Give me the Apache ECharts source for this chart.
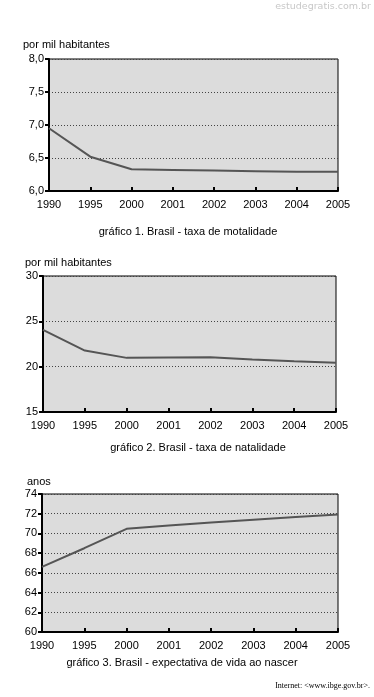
<!DOCTYPE html>
<html><head><meta charset="utf-8">
<script src="https://cdn.jsdelivr.net/npm/echarts@6/dist/echarts.min.js"></script>
<style>html,body{margin:0;padding:0;background:#fff}#c{width:374px;height:697px}</style>
</head><body><div id="c"></div>
<script>
var years = ['1990','1995','2000','2001','2002','2003','2004','2005'];
var mortalidade = [6.95, 6.52, 6.33, 6.32, 6.31, 6.30, 6.29, 6.29];
var natalidade = [24.06, 21.78, 20.97, 21.0, 21.04, 20.8, 20.6, 20.44];
var expectativa = [66.6, 68.5, 70.47, 70.8, 71.1, 71.4, 71.67, 71.93];
var yNames = ['por mil habitantes', 'por mil habitantes', 'anos'];
var captions = ['gráfico 1. Brasil - taxa de motalidade', 'gráfico 2. Brasil - taxa de natalidade', 'gráfico 3. Brasil - expectativa de vida ao nascer'];

var FONT = '"Liberation Sans", Arial, sans-serif';
var grids = [
  {left:49, right:36, top:59, height:132},
  {left:43, right:38, top:276, height:136},
  {left:42, right:36, top:494, height:138}
];
var yCfg = [
  {min:6, max:8, interval:0.5, fmt:function(v){return v.toFixed(1).replace('.',',');}},
  {min:15, max:30, interval:5, fmt:function(v){return String(v);}},
  {min:60, max:74, interval:2, fmt:function(v){return String(v);}}
];
var data = [mortalidade, natalidade, expectativa];

var option = {
  backgroundColor:'#fff',
  animation:false,
  grid: grids.map(function(g){return Object.assign({show:true, backgroundColor:'#dcdcdc', borderColor:'#000', borderWidth:1}, g);}),
  xAxis: grids.map(function(g,i){return {
    type:'category', gridIndex:i, data:years, boundaryGap:false,
    axisLine:{show:true, lineStyle:{color:'#000', width:2}},
    axisTick:{show:true, inside:true, length:4, lineStyle:{color:'#000', width:2}},
    axisLabel:{color:'#000', fontFamily:FONT, fontSize:11, margin:8},
    splitLine:{show:false}
  };}),
  yAxis: yCfg.map(function(c,i){return {
    type:'value', gridIndex:i, min:c.min, max:c.max, interval:c.interval,
    axisLine:{show:true, lineStyle:{color:'#000', width:2}},
    axisTick:{show:true, length:4, lineStyle:{color:'#000', width:2}},
    axisLabel:{color:'#000', fontFamily:FONT, fontSize:11, margin:5, formatter:c.fmt},
    splitLine:{show:true, lineStyle:{color:'#444', type:[1,2], width:1}}
  };}),
  series: data.map(function(d,i){return {
    type:'line', xAxisIndex:i, yAxisIndex:i, data:d, symbol:'none',
    lineStyle:{color:'#555', width:2}
  };}),
  graphic: [
    {type:'text', left:23, top:39, style:{text:yNames[0], font:'11px '+FONT, fill:'#000'}},
    {type:'text', left:25, top:257, style:{text:yNames[1], font:'11px '+FONT, fill:'#000'}},
    {type:'text', left:27, top:476, style:{text:yNames[2], font:'11px '+FONT, fill:'#000'}},
    {type:'text', x:188, y:226, style:{text:captions[0], font:'11px '+FONT, fill:'#000', textAlign:'center'}},
    {type:'text', x:198, y:442, style:{text:captions[1], font:'11px '+FONT, fill:'#000', textAlign:'center'}},
    {type:'text', x:182, y:657, style:{text:captions[2], font:'11px '+FONT, fill:'#000', textAlign:'center'}},
    {type:'text', right:3, top:2, style:{text:'estudegratis.com.br', font:'9.5px "DejaVu Sans", sans-serif', fill:'#c8c8c8'}},
    {type:'text', right:4, top:682, style:{text:'Internet: <www.ibge.gov.br>.', font:'8px "Liberation Serif", serif', fill:'#000'}}
  ]
};
var chart = echarts.init(document.getElementById('c'), null, {renderer:'canvas'});
chart.setOption(option);
</script></body></html>
